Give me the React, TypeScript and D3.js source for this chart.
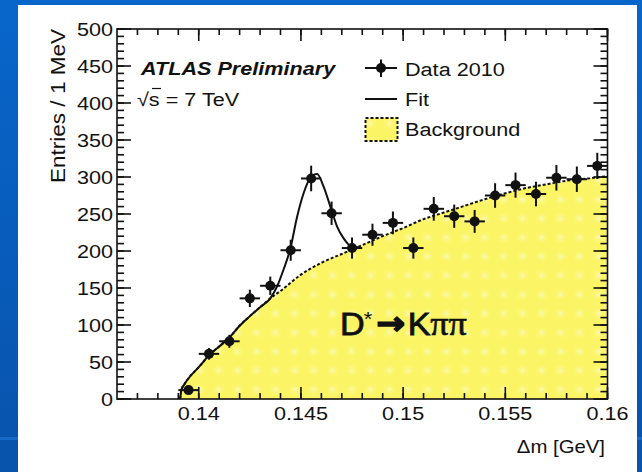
import React from 'react';
import * as d3 from 'd3';

// Δm bin centres (1 MeV bins) and entries
const binCentres = [0.1395, 0.1405, 0.1415, 0.1425, 0.1435, 0.1445, 0.1455, 0.1465, 0.1475, 0.1485, 0.1495,
  0.1505, 0.1515, 0.1525, 0.1535, 0.1545, 0.1555, 0.1565, 0.1575, 0.1585, 0.1595];
const entries = [12, 61, 78, 136, 153, 201, 298, 251, 204, 222, 238, 204, 257, 247, 240, 275, 289, 277, 299, 297, 315];
const entryErrors = [3.5, 7.8, 8.8, 11.7, 12.4, 14.2, 17.3, 15.8, 14.3, 14.9, 15.4, 14.3, 16, 15.7, 15.5, 16.6, 17, 16.6, 17.3, 17.2, 17.7];

// background shape (dotted line + yellow fill)
const bkgMass = [0.13909, 0.13915, 0.1393, 0.1395, 0.140, 0.1405, 0.141, 0.1415, 0.142, 0.1425, 0.143, 0.1435,
  0.144, 0.145, 0.146, 0.147, 0.148, 0.149, 0.150, 0.151, 0.152, 0.153, 0.154, 0.155, 0.156, 0.157, 0.158, 0.159, 0.160];
const bkgValues = [0, 12, 20, 28, 43, 59, 71, 83, 99, 112, 124, 136,
  146, 168, 184, 196, 208, 220, 231, 243, 252, 261, 270, 278, 285, 290, 295, 298, 301];

// full fit (solid line), drawn up to the end of the peak
const fitMass = [0.13909, 0.13915, 0.1393, 0.1395, 0.140, 0.1405, 0.141, 0.1415, 0.142, 0.1425, 0.143, 0.1435,
  0.14383, 0.14415, 0.14448, 0.14481, 0.14513, 0.14554, 0.14579, 0.14611, 0.14644, 0.14677, 0.14709, 0.14742, 0.1478];
const fitValues = [0, 12, 20, 28, 43, 59, 71, 83, 99, 112, 124, 136,
  152, 175, 203, 246, 278, 302, 304, 287, 260, 233, 217, 207, 205];

const xTickValues = [0.14, 0.145, 0.15, 0.155, 0.16];
const xTickLabels = ['0.14', '0.145', '0.15', '0.155', '0.16'];
const yTickValues = [0, 50, 100, 150, 200, 250, 300, 350, 400, 450, 500];
const yTickLabels = ['0', '50', '100', '150', '200', '250', '300', '350', '400', '450', '500'];

const W = 642;
const H = 472;
const SX = 1.15; // the slide stretched the plot sideways
const FONT = '"Liberation Sans", Arial, sans-serif';
const INK = '#111';

const x = d3.scaleLinear().domain([0.136, 0.16]).range([117, 607.5]);
const y = d3.scaleLinear().domain([0, 500]).range([399, 29]);

const T = ({ x: tx, y: ty, size, anchor = 'start', weight = 'normal', style = 'normal', family = FONT, children }: any) => (
  <text transform={`translate(${tx},${ty}) scale(${SX},1)`} fontSize={size} textAnchor={anchor}
    fontWeight={weight} fontStyle={style} fontFamily={family} fill={INK}>{children}</text>
);

export default function App() {
  const [x0, x1] = x.range();
  const [y0, y1] = y.range();
  const minorX = d3.range(137, 161).map(v => v / 1000);
  const minorY = d3.range(0, 501, 10);

  const bkgLine = d3.line<number>().x((d, i) => x(bkgMass[i])).y(d => y(d)).curve(d3.curveMonotoneX);
  const bkgArea = d3.area<number>().x((d, i) => x(bkgMass[i])).y0(y(0)).y1(d => y(d)).curve(d3.curveMonotoneX);
  const fitLine = d3.line<number>().x((d, i) => x(fitMass[i])).y(d => y(d)).curve(d3.curveMonotoneX);

  return (
    <svg width={W} height={H} style={{ position: 'fixed', left: 0, top: 0 }}>
      <defs>
        <linearGradient id="slide" x1="0" y1="0" x2="0" y2="1">
          <stop offset="0" stopColor="#0866cb" />
          <stop offset="1" stopColor="#0853ab" />
        </linearGradient>
        <radialGradient id="dot">
          <stop offset="0" stopColor="#fcf9c4" stopOpacity={0.8} />
          <stop offset="1" stopColor="#fbf565" stopOpacity={0} />
        </radialGradient>
        <pattern id="bkgPat" width="19" height="19" patternUnits="userSpaceOnUse">
          <rect width="19" height="19" fill="#fbf565" />
          <circle cx="9.5" cy="9.5" r="7" fill="url(#dot)" />
        </pattern>
      </defs>

      <rect width={W} height={H} fill="url(#slide)" />
      <rect x={0} y={437} width={W} height={3} fill="#1f78d8" opacity={0.6} />
      <rect x={18} y={5} width={619} height={H} fill="#fff" />

      {/* background */}
      <path d={bkgArea(bkgValues) || ''} fill="url(#bkgPat)" />
      <path d={bkgLine(bkgValues) || ''} fill="none" stroke={INK} strokeWidth={2} strokeDasharray="3 2" />
      <path d={fitLine(fitValues) || ''} fill="none" stroke={INK} strokeWidth={2} />

      {/* data points */}
      {entries.map((v, i) => (
        <g key={i} stroke={INK} strokeWidth={2}>
          <line x1={x(binCentres[i] - 0.0005)} x2={x(binCentres[i] + 0.0005)} y1={y(v)} y2={y(v)} />
          <line x1={x(binCentres[i])} x2={x(binCentres[i])} y1={y(v - entryErrors[i])} y2={y(v + entryErrors[i])} />
          <circle cx={x(binCentres[i])} cy={y(v)} r={5} fill={INK} stroke="none" />
        </g>
      ))}

      {/* frame and ticks */}
      <g stroke={INK} strokeWidth={1.6}>
        <rect x={x0} y={y1} width={x1 - x0} height={y0 - y1} fill="none" />
        {minorX.map(t => (
          <g key={'mx' + t}>
            <line x1={x(t)} x2={x(t)} y1={y0} y2={y0 - 6} />
            <line x1={x(t)} x2={x(t)} y1={y1} y2={y1 + 6} />
          </g>
        ))}
        {xTickValues.map(t => (
          <g key={'Mx' + t}>
            <line x1={x(t)} x2={x(t)} y1={y0} y2={y0 - 12} />
            <line x1={x(t)} x2={x(t)} y1={y1} y2={y1 + 12} />
          </g>
        ))}
        {minorY.map(t => (
          <g key={'my' + t}>
            <line x1={x0} x2={x0 + 7} y1={y(t)} y2={y(t)} />
            <line x1={x1} x2={x1 - 7} y1={y(t)} y2={y(t)} />
          </g>
        ))}
        {yTickValues.map(t => (
          <g key={'My' + t}>
            <line x1={x0} x2={x0 + 14} y1={y(t)} y2={y(t)} />
            <line x1={x1} x2={x1 - 14} y1={y(t)} y2={y(t)} />
          </g>
        ))}
      </g>

      {yTickValues.map((t, i) => (
        <T key={'yl' + t} x={113} y={y(t) + 6.7} size={18.8} anchor="end">{yTickLabels[i]}</T>
      ))}
      {xTickValues.map((t, i) => (
        <T key={'xl' + t} x={x(t)} y={420} size={18.8} anchor="middle">{xTickLabels[i]}</T>
      ))}

      <T x={605} y={453} size={17.7} anchor="end">Δm [GeV]</T>
      <text transform="translate(65,29) rotate(-90) scale(1.1,1)" fontSize={20.5} textAnchor="end" fontFamily={FONT} fill={INK}>
        Entries / 1 MeV
      </text>

      <T x={141} y={74.5} size={18.8} weight="bold" style="italic">ATLAS Preliminary</T>
      <T x={137} y={106} size={18.8}>√s = 7 TeV</T>
      <line x1={152} x2={161} y1={88.5} y2={88.5} stroke={INK} strokeWidth={1.2} />

      {/* legend */}
      <g stroke={INK} strokeWidth={2}>
        <line x1={365} x2={397} y1={68} y2={68} />
        <line x1={381} x2={381} y1={59.5} y2={77} />
        <circle cx={381} cy={68} r={5} fill={INK} stroke="none" />
        <line x1={365} x2={397} y1={99} y2={99} />
        <rect x={365.5} y={118} width={32} height={23} fill="url(#bkgPat)" strokeDasharray="3 2" />
      </g>
      <T x={405} y={75.5} size={18.8}>Data 2010</T>
      <T x={405} y={106} size={18.8}>Fit</T>
      <T x={405} y={135.5} size={18.8}>Background</T>

      {/* decay label */}
      <g transform="translate(340,335) scale(1.1,1)" fill={INK}>
        <text x={0} y={0} fontSize={31} fontFamily={FONT} stroke={INK} strokeWidth={0.8}>D</text>
        <text x={21.5} y={-9} fontSize={20} fontFamily={FONT}>*</text>
        <text x={33} y={-1} fontSize={31} fontWeight="bold" fontFamily='"DejaVu Sans", sans-serif'
          stroke={INK} strokeWidth={1.6}>→</text>
        <text x={61.5} y={0} fontSize={31} fontFamily={FONT} stroke={INK} strokeWidth={0.8}>K</text>
        <text x={82} y={0} fontSize={33} fontFamily='"Liberation Serif", serif' stroke={INK} strokeWidth={0.6}>ππ</text>
      </g>
    </svg>
  );
}
